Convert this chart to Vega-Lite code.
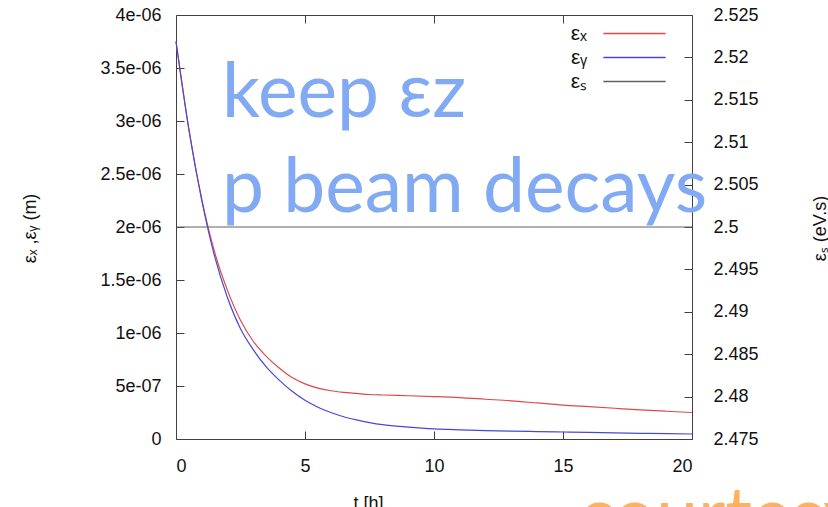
{
  "$schema": "https://vega.github.io/schema/vega-lite/v6.json",
  "width": 516,
  "height": 424,
  "autosize": "none",
  "padding": {"left": 176, "top": 15, "right": 136, "bottom": 68},
  "background": "white",
  "config": {
    "font": "Liberation Sans",
    "view": {"stroke": "#404040", "strokeWidth": 1},
    "axis": {"labelFont": "Liberation Sans", "titleFont": "Liberation Sans", "labelFontSize": 18, "titleFontSize": 18, "labelColor": "#111", "titleColor": "#111", "titleFontWeight": "normal", "domain": false, "grid": false, "ticks": true, "tickSize": 8, "tickColor": "#404040", "tickWidth": 1, "offset": -8}
  },
  "datasets": {
    "curves": [
      {"t": 0, "v": 3.75e-6, "s": "εₓ"}, {"t": 0.5, "v": 2.92e-6, "s": "εₓ"}, {"t": 1, "v": 2.26e-6, "s": "εₓ"}, {"t": 1.5, "v": 1.76e-6, "s": "εₓ"}, {"t": 2, "v": 1.40e-6, "s": "εₓ"}, {"t": 2.5, "v": 1.12e-6, "s": "εₓ"}, {"t": 3, "v": 0.92e-6, "s": "εₓ"}, {"t": 3.5, "v": 0.78e-6, "s": "εₓ"}, {"t": 4, "v": 0.67e-6, "s": "εₓ"}, {"t": 4.5, "v": 0.58e-6, "s": "εₓ"}, {"t": 5, "v": 0.52e-6, "s": "εₓ"}, {"t": 5.5, "v": 0.48e-6, "s": "εₓ"}, {"t": 6, "v": 0.455e-6, "s": "εₓ"}, {"t": 6.5, "v": 0.44e-6, "s": "εₓ"}, {"t": 7, "v": 0.43e-6, "s": "εₓ"}, {"t": 7.5, "v": 0.42e-6, "s": "εₓ"}, {"t": 8, "v": 0.415e-6, "s": "εₓ"}, {"t": 9, "v": 0.408e-6, "s": "εₓ"}, {"t": 10, "v": 0.40e-6, "s": "εₓ"}, {"t": 11, "v": 0.39e-6, "s": "εₓ"}, {"t": 12, "v": 0.375e-6, "s": "εₓ"}, {"t": 13, "v": 0.36e-6, "s": "εₓ"}, {"t": 14, "v": 0.34e-6, "s": "εₓ"}, {"t": 15, "v": 0.32e-6, "s": "εₓ"}, {"t": 16, "v": 0.305e-6, "s": "εₓ"}, {"t": 17, "v": 0.29e-6, "s": "εₓ"}, {"t": 18, "v": 0.275e-6, "s": "εₓ"}, {"t": 19, "v": 0.262e-6, "s": "εₓ"}, {"t": 20, "v": 0.25e-6, "s": "εₓ"},
      {"t": 0, "v": 3.75e-6, "s": "εᵧ"}, {"t": 0.5, "v": 2.92e-6, "s": "εᵧ"}, {"t": 1, "v": 2.25e-6, "s": "εᵧ"}, {"t": 1.5, "v": 1.72e-6, "s": "εᵧ"}, {"t": 2, "v": 1.33e-6, "s": "εᵧ"}, {"t": 2.5, "v": 1.04e-6, "s": "εᵧ"}, {"t": 3, "v": 0.84e-6, "s": "εᵧ"}, {"t": 3.5, "v": 0.68e-6, "s": "εᵧ"}, {"t": 4, "v": 0.555e-6, "s": "εᵧ"}, {"t": 4.5, "v": 0.45e-6, "s": "εᵧ"}, {"t": 5, "v": 0.365e-6, "s": "εᵧ"}, {"t": 5.5, "v": 0.30e-6, "s": "εᵧ"}, {"t": 6, "v": 0.25e-6, "s": "εᵧ"}, {"t": 6.5, "v": 0.21e-6, "s": "εᵧ"}, {"t": 7, "v": 0.18e-6, "s": "εᵧ"}, {"t": 7.5, "v": 0.155e-6, "s": "εᵧ"}, {"t": 8, "v": 0.135e-6, "s": "εᵧ"}, {"t": 9, "v": 0.112e-6, "s": "εᵧ"}, {"t": 10, "v": 0.095e-6, "s": "εᵧ"}, {"t": 11, "v": 0.086e-6, "s": "εᵧ"}, {"t": 12, "v": 0.079e-6, "s": "εᵧ"}, {"t": 13, "v": 0.074e-6, "s": "εᵧ"}, {"t": 14, "v": 0.07e-6, "s": "εᵧ"}, {"t": 15, "v": 0.066e-6, "s": "εᵧ"}, {"t": 16, "v": 0.062e-6, "s": "εᵧ"}, {"t": 17, "v": 0.058e-6, "s": "εᵧ"}, {"t": 18, "v": 0.054e-6, "s": "εᵧ"}, {"t": 19, "v": 0.05e-6, "s": "εᵧ"}, {"t": 20, "v": 0.047e-6, "s": "εᵧ"}
    ],
    "es": [
      {"t": 0, "v": 2.5, "s": "εₛ"}, {"t": 20, "v": 2.5, "s": "εₛ"}
    ],
    "notesBlue": [
      {"t": 1.78, "v": 3.04e-6, "label": "keep εz"},
      {"t": 1.78, "v": 2.14e-6, "label": "p beam decays"}
    ],
    "notesOrange": [
      {"t": 15.6, "v": -0.96e-6, "label": "courtesy"}
    ]
  },
  "layer": [
    {
      "data": {"name": "curves"},
      "mark": {"type": "line", "strokeWidth": 1.2, "interpolate": "monotone"},
      "encoding": {
        "x": {"field": "t", "type": "quantitative", "scale": {"domain": [0, 20], "nice": false}, "axis": {"orient": "bottom", "values": [0, 5, 10, 15, 20], "title": "t [h]", "labelPadding": 18, "titleX": 192, "titleY": 77, "titleBaseline": "alphabetic", "titleAnchor": null}},
        "y": {"field": "v", "type": "quantitative", "scale": {"domain": [0, 4e-6], "nice": false}, "axis": {"orient": "left", "values": [0, 5e-7, 1e-6, 1.5e-6, 2e-6, 2.5e-6, 3e-6, 3.5e-6, 4e-6], "labelExpr": "datum.value == 0 ? '0' : replace(format(datum.value, '~e'), 'e-', 'e-0')", "labelPadding": 15, "title": "εₓ ,εᵧ (m)", "titleAngle": -90, "titleX": -154, "titleY": 213, "titleAlign": "center", "titleBaseline": "middle"}},
        "color": {"field": "s", "type": "nominal", "scale": {"domain": ["εₓ", "εᵧ", "εₛ"], "range": ["#e04848", "#4848d8", "#606060"]}, "legend": {"orient": "none", "legendX": 448, "legendY": 8, "padding": 0, "title": null, "symbolType": "M-5,0H5", "symbolSize": 155, "symbolStrokeWidth": 1.3, "rowPadding": 2, "labelAlign": "right", "labelOffset": -58, "labelFontSize": 21, "labelFont": "Liberation Sans", "labelColor": "#111", "labelLimit": 0}}
      }
    },
    {
      "data": {"name": "es"},
      "mark": {"type": "line", "strokeWidth": 1.2},
      "encoding": {
        "x": {"field": "t", "type": "quantitative", "scale": {"domain": [0, 20], "nice": false}, "axis": {"orient": "top", "values": [5, 10, 15], "labels": false, "title": null}},
        "y": {"field": "v", "type": "quantitative", "scale": {"domain": [2.475, 2.525], "nice": false, "zero": false}, "axis": {"orient": "right", "values": [2.475, 2.48, 2.485, 2.49, 2.495, 2.5, 2.505, 2.51, 2.515, 2.52, 2.525], "format": "~g", "labelPadding": 21, "title": "εₛ (eV.s)", "titleAngle": -90, "titleX": 136, "titleY": 213, "titleAlign": "center", "titleBaseline": "middle"}},
        "color": {"field": "s", "type": "nominal"}
      }
    },
    {
      "data": {"name": "notesBlue"},
      "mark": {"type": "text", "align": "left", "baseline": "alphabetic", "font": "Lato", "fontSize": 75, "color": "#82aaf2"},
      "encoding": {
        "x": {"field": "t", "type": "quantitative", "scale": {"domain": [0, 20], "nice": false}, "axis": null},
        "y": {"field": "v", "type": "quantitative", "scale": {"domain": [0, 4e-6], "nice": false, "zero": false}, "axis": null},
        "text": {"field": "label"}
      }
    },
    {
      "data": {"name": "notesOrange"},
      "mark": {"type": "text", "align": "left", "baseline": "alphabetic", "font": "Lato", "fontSize": 75, "color": "#ffb060"},
      "encoding": {
        "x": {"field": "t", "type": "quantitative", "scale": {"domain": [0, 20], "nice": false}, "axis": null},
        "y": {"field": "v", "type": "quantitative", "scale": {"domain": [0, 4e-6], "nice": false, "zero": false}, "axis": null},
        "text": {"field": "label"}
      }
    }
  ],
  "resolve": {"scale": {"y": "independent", "color": "shared"}, "axis": {"x": "independent", "y": "independent"}}
}
